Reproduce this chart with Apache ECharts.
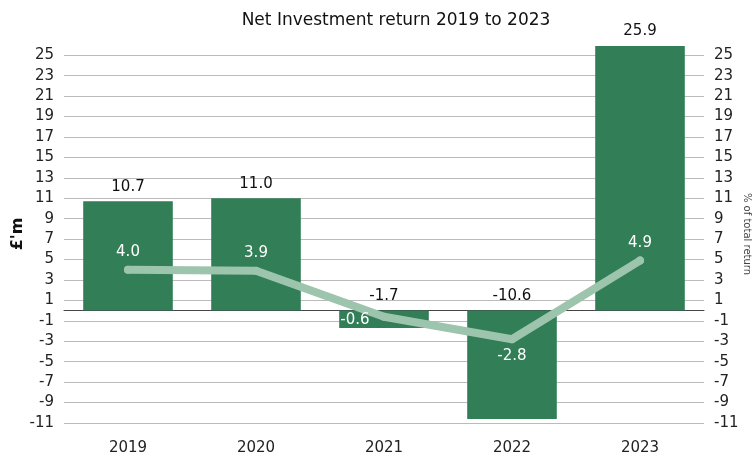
<!DOCTYPE html>
<html>
<head>
    <meta charset="utf-8">
    <title>Net Investment return</title>
    <script src="https://cdn.jsdelivr.net/npm/echarts@6/dist/echarts.min.js"></script>
    <style>
        html, body { margin: 0; padding: 0; background: #fff; }
        #chart { width: 752px; height: 461px; }
    </style>
</head>
<body>
    <div id="chart"></div>
    <script>
    // data
    var years = ['2019', '2020', '2021', '2022', '2023'];
    var returnM = [10.7, 11.0, -1.7, -10.6, 25.9];
    var returnPct = [4.0, 3.9, -0.6, -2.8, 4.9];
    // where each line label sits relative to its point
    var pctLabelPos = ['top', 'top', 'bottom', 'bottom', 'top'];
    var pctLabelOffset = [[0, 0], [0, 0], [-29, -14], [0, -1], [0, 0]];

    var font = '"DejaVu Sans", sans-serif';
    var lineColor = '#9dc4ad';
    var myChart = echarts.init(document.getElementById('chart'));

    var yAxisBase = {
        type: 'value',
        min: -11,
        max: 26,
        interval: 2,
        nameMoveOverlap: false,
        axisLine: { show: false },
        axisTick: { show: false },
        axisLabel: { color: '#222', fontSize: 15, fontFamily: font, showMaxLabel: false, margin: 10 }
    };

    var option = {
        animation: false,
        title: {
            text: 'Net Investment return 2019 to 2023',
            left: 391,
            top: 7,
            textAlign: 'center',
            textStyle: { color: '#111', fontSize: 17, fontWeight: 'normal', fontFamily: font }
        },
        grid: { left: 64, right: 48, top: 45, bottom: 38, outerBoundsMode: 'none', containLabel: false },
        xAxis: {
            type: 'category',
            data: years,
            axisLine: { onZero: true, lineStyle: { color: '#444', width: 1 } },
            axisTick: { show: false },
            axisLabel: { color: '#222', fontSize: 15, fontFamily: font, margin: 18 }
        },
        yAxis: [
            Object.assign({}, yAxisBase, {
                name: '£\'m',
                nameLocation: 'middle',
                nameRotate: 90,
                nameGap: 38,
                nameTextStyle: { color: '#111', fontSize: 16, fontWeight: 'bold', fontFamily: font },
                splitLine: { showMaxLine: false, lineStyle: { color: '#bbb', width: 1 } }
            }),
            Object.assign({}, yAxisBase, {
                name: '% of total return',
                nameLocation: 'middle',
                nameRotate: -90,
                nameGap: 38,
                nameTextStyle: { color: '#444', fontSize: 10, fontFamily: font },
                splitLine: { show: false }
            })
        ],
        series: [{
            name: '£m',
            type: 'bar',
            data: returnM,
            barWidth: '70%',
            itemStyle: { color: '#317e57' },
            label: {
                show: true,
                position: 'top',
                distance: 7,
                color: '#111',
                fontSize: 15,
                fontFamily: font,
                formatter: function (p) { return p.value.toFixed(1); }
            }
        }, {
            name: '%',
            type: 'line',
            yAxisIndex: 1,
            data: returnPct.map(function (v, i) {
                return {
                    value: v,
                    label: { position: pctLabelPos[i], offset: pctLabelOffset[i] }
                };
            }),
            showSymbol: true,
            symbol: 'circle',
            symbolSize: 8,
            itemStyle: { color: lineColor, borderWidth: 0 },
            lineStyle: { color: lineColor, width: 8, cap: 'round', join: 'round' },
            label: {
                show: true,
                distance: 6,
                color: '#fff',
                fontSize: 15,
                fontFamily: font,
                formatter: function (p) { return p.value.toFixed(1); }
            },
            z: 3
        }]
    };

    myChart.setOption(option);
    addEventListener('resize', myChart.resize);
    </script>
</body>
</html>
